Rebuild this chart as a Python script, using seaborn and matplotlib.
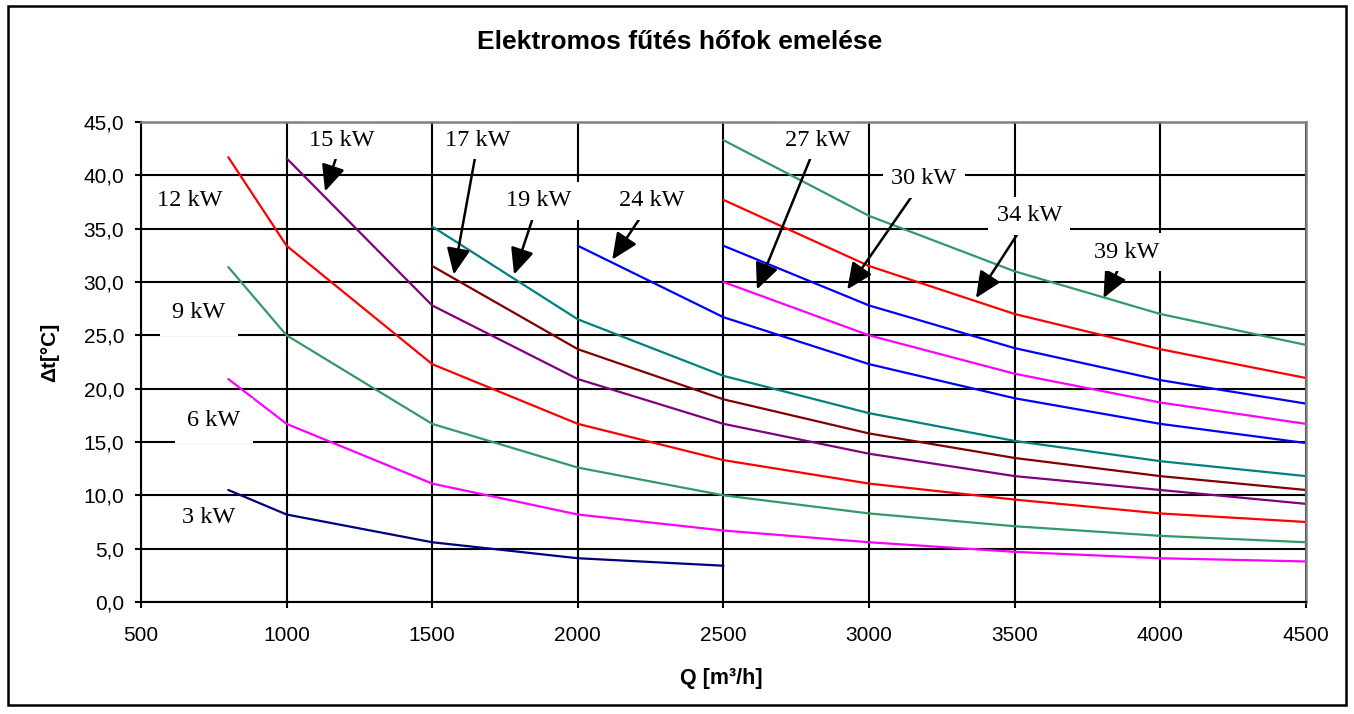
import matplotlib
matplotlib.use("Agg")
from matplotlib import pyplot as plt
from matplotlib.patches import Rectangle
import pandas as pd
import seaborn as sns

# values (Q in m3/h, dt in degC)
q_3kw = [800, 1000, 1500, 2000, 2500]
dt_3kw = [10.5, 8.2, 5.6, 4.1, 3.4]

q_6_12kw = [800, 1000, 1500, 2000, 2500, 3000, 3500, 4000, 4500]
dt_6kw = [20.9, 16.7, 11.1, 8.2, 6.7, 5.6, 4.7, 4.1, 3.8]
dt_9kw = [31.4, 25.0, 16.7, 12.6, 10.0, 8.3, 7.1, 6.2, 5.6]
dt_12kw = [41.7, 33.4, 22.3, 16.7, 13.3, 11.1, 9.6, 8.3, 7.5]

q_15kw = [1000, 1500, 2000, 2500, 3000, 3500, 4000, 4500]
dt_15kw = [41.6, 27.8, 20.9, 16.7, 13.9, 11.8, 10.5, 9.2]

q_17_19kw = [1500, 2000, 2500, 3000, 3500, 4000, 4500]
dt_17kw = [31.5, 23.7, 19.0, 15.8, 13.5, 11.8, 10.5]
dt_19kw = [35.2, 26.5, 21.2, 17.7, 15.1, 13.2, 11.8]

q_24kw = [2000, 2500, 3000, 3500, 4000, 4500]
dt_24kw = [33.4, 26.7, 22.3, 19.1, 16.7, 14.9]

q_27_39kw = [2500, 3000, 3500, 4000, 4500]
dt_27kw = [30.0, 25.0, 21.4, 18.7, 16.7]
dt_30kw = [33.4, 27.8, 23.8, 20.8, 18.6]
dt_34kw = [37.7, 31.5, 27.0, 23.7, 21.0]
dt_39kw = [43.3, 36.2, 31.0, 27.0, 24.1]

power_labels = ['3 kW', '6 kW', '9 kW', '12 kW', '15 kW', '17 kW',
                '19 kW', '24 kW', '27 kW', '30 kW', '34 kW', '39 kW']
series_q = [q_3kw, q_6_12kw, q_6_12kw, q_6_12kw, q_15kw, q_17_19kw,
            q_17_19kw, q_24kw, q_27_39kw, q_27_39kw, q_27_39kw, q_27_39kw]
series_dt = [dt_3kw, dt_6kw, dt_9kw, dt_12kw, dt_15kw, dt_17kw,
             dt_19kw, dt_24kw, dt_27kw, dt_30kw, dt_34kw, dt_39kw]
line_colors = ['#000080', '#FF00FF', '#339966', '#FF0000', '#800080', '#800000',
               '#008080', '#0000FF', '#FF00FF', '#0000FF', '#FF0000', '#339966']

x_ticks = list(range(500, 4501, 500))
y_ticks = list(range(0, 46, 5))
y_tick_labels = [f"{v:.1f}".replace('.', ',') for v in y_ticks]

# label placement (data coords) and arrow tips, None = no arrow
label_pos = {'3 kW': (731, 7.9), '6 kW': (750, 17.0), '9 kW': (699, 27.1),
             '12 kW': (669, 37.6), '15 kW': (1190, 43.3), '17 kW': (1658, 43.3),
             '19 kW': (1865, 37.6), '24 kW': (2253, 37.6), '27 kW': (2824, 43.3),
             '30 kW': (3189, 39.7), '34 kW': (3550, 36.2), '39 kW': (3886, 32.8)}
arrow_tip = {'15 kW': (1132, 38.5), '17 kW': (1574, 30.7), '19 kW': (1781, 30.7),
             '24 kW': (2118, 32.1), '27 kW': (2615, 29.3), '30 kW': (2925, 29.3),
             '34 kW': (3367, 28.5), '39 kW': (3805, 28.5)}
box_pad = {'6 kW': 0.5, '9 kW': 0.5}

rows = []
for lab, qs, dts in zip(power_labels, series_q, series_dt):
    for q, d in zip(qs, dts):
        rows.append({'Q': q, 'dt': d, 'P': lab})
df = pd.DataFrame(rows)

sns.set_style('white')
plt.rcParams['font.family'] = ['Liberation Sans', 'DejaVu Sans']
plt.rcParams['text.color'] = 'black'
plt.rcParams['axes.labelcolor'] = 'black'
plt.rcParams['xtick.color'] = 'black'
plt.rcParams['ytick.color'] = 'black'

fig = plt.figure(figsize=(13.54, 7.14), dpi=100)
ax = fig.add_axes([0.1041, 0.1569, 0.8604, 0.6722])

sns.lineplot(data=df, x='Q', y='dt', hue='P', hue_order=power_labels,
             palette=dict(zip(power_labels, line_colors)), estimator=None,
             sort=False, legend=False, linewidth=1.6, ax=ax)

ax.set_xlim(500, 4500)
ax.set_ylim(0, 45)
ax.set_xticks(x_ticks)
ax.set_yticks(y_ticks)
ax.set_yticklabels(y_tick_labels)
ax.set_xlabel('')
ax.set_ylabel('')
ax.set_axisbelow(True)
ax.grid(True, color='black', linewidth=1.5)
ax.tick_params(axis='both', direction='out', length=4.5, width=1.5,
               labelsize=15, color='black', labelcolor='black', left=True, bottom=True)
ax.tick_params(axis='x', pad=13)
ax.tick_params(axis='y', pad=7.5)
for side in ['left', 'bottom']:
    ax.spines[side].set_color('black')
    ax.spines[side].set_linewidth(1.5)
for side in ['top', 'right']:
    ax.spines[side].set_color('#808080')
    ax.spines[side].set_linewidth(1.8)
    ax.spines[side].set_visible(True)

for lab in power_labels:
    tx, ty = label_pos[lab]
    bbox = dict(boxstyle=f"square,pad={box_pad.get(lab, 0.35)}", fc='white', ec='none')
    if lab in arrow_tip:
        ax.annotate(lab, xy=arrow_tip[lab], xytext=(tx, ty), ha='center', va='center',
                    fontsize=17.5, family='Liberation Serif', color='black',
                    bbox=bbox, zorder=2.2,
                    arrowprops=dict(arrowstyle='-|>,head_length=0.8,head_width=0.36',
                                    color='black', lw=1.8, shrinkA=0, shrinkB=0,
                                    mutation_scale=20))
    else:
        ax.text(tx, ty, lab, ha='center', va='center', fontsize=17.5, color='black',
                family='Liberation Serif', bbox=bbox, zorder=2.2)

fig.text(0.502, 0.941, 'Elektromos fűtés hőfok emelése', ha='center', va='center',
         fontsize=19, fontweight='bold', color='black')
fig.text(0.5325, 0.050, 'Q [m³/h]', ha='center', va='center',
         fontsize=15.5, fontweight='bold', color='black')
fig.text(0.0369, 0.507, 'Δt[°C]', ha='center', va='center', rotation=90,
         fontsize=15, fontweight='bold', color='black')

fig.patches.append(Rectangle((0.006, 0.012), 0.988, 0.979, transform=fig.transFigure,
                             fill=False, ec='black', lw=1.8))

fig.savefig('out.png', dpi=100)
